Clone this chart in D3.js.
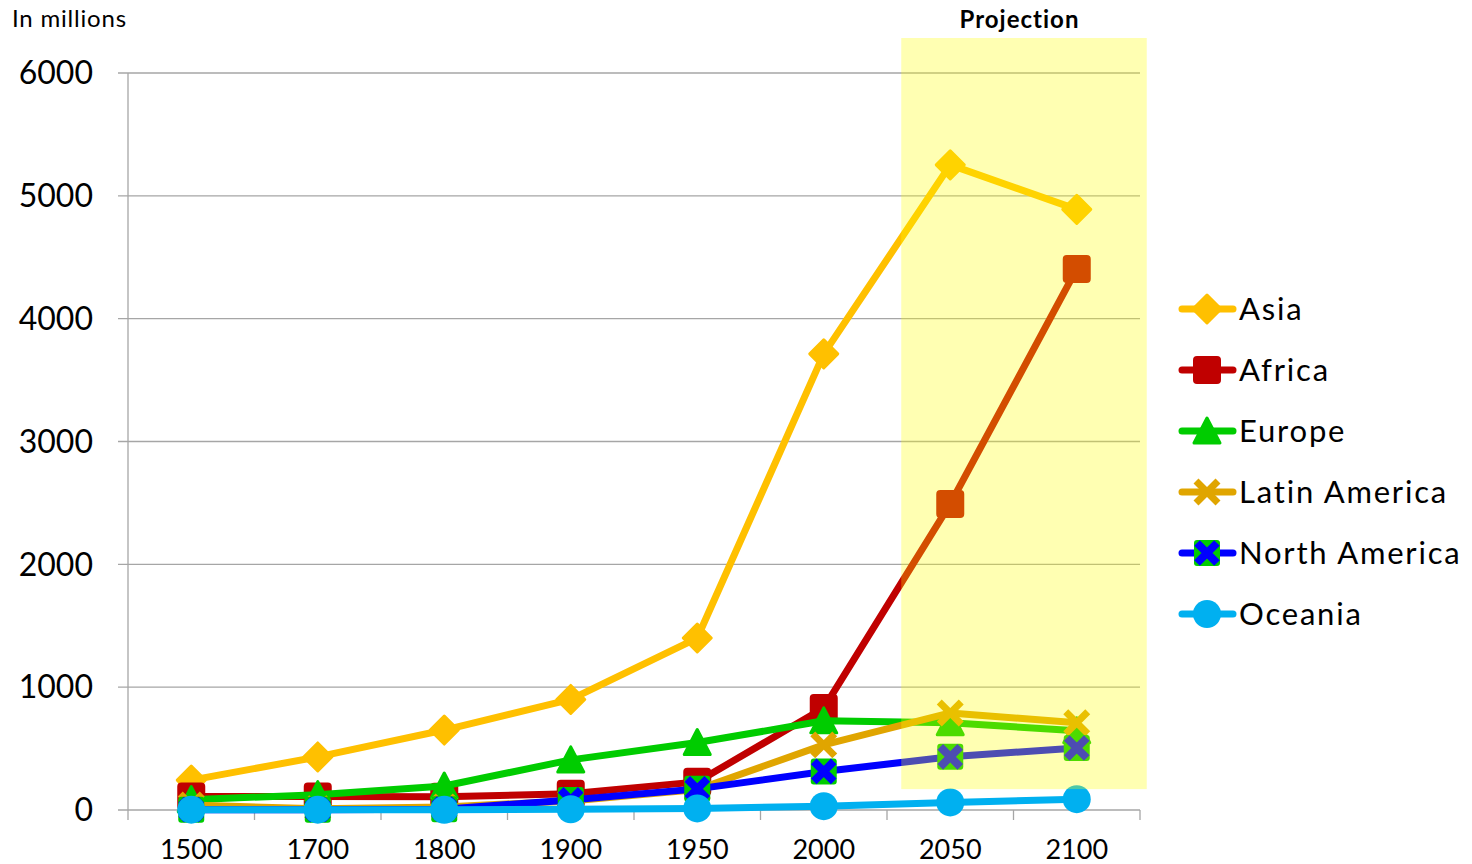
<!DOCTYPE html>
<html>
<head>
<meta charset="utf-8">
<script src="https://cdn.jsdelivr.net/npm/d3@7"></script>
<style>
  html, body { margin: 0; padding: 0; background: #fff; }
  svg { display: block; font-family: Lato, "Open Sans", sans-serif; }
</style>
</head>
<body>
<svg id="chart" width="1472" height="864"></svg>
<script>
// World population by region, in millions
const years = ["1500", "1700", "1800", "1900", "1950", "2000", "2050", "2100"];
const asia          = [243, 432, 651, 900, 1400, 3713, 5252, 4890];
const africa        = [110, 110, 107, 133, 229, 830, 2492, 4405];
const europe        = [84, 125, 195, 408, 549, 726, 710, 645];
const latinAmerica  = [40, 10, 24, 74, 167, 530, 790, 710];
const northAmerica  = [3, 2, 7, 82, 172, 314, 433, 505];
const oceania       = [3, 3, 2, 6, 13, 31, 62, 88];
const yTicks = [0, 1000, 2000, 3000, 4000, 5000, 6000];
const projectionYears = ["2050", "2100"];

const series = [
  { name: "Asia",          values: asia,         color: "#FFC000", marker: "diamond" },
  { name: "Africa",        values: africa,       color: "#C00000", marker: "square" },
  { name: "Europe",        values: europe,       color: "#00CC00", marker: "triangle" },
  { name: "Latin America", values: latinAmerica, color: "#E0A500", marker: "x" },
  { name: "North America", values: northAmerica, color: "#0000FF", marker: "boxx" },
  { name: "Oceania",       values: oceania,      color: "#00B0F0", marker: "circle" }
];

const svg = d3.select("#chart");
const plot = { left: 128, right: 1140, top: 73, bottom: 810 };

const x = d3.scaleBand().domain(years).range([plot.left, plot.right]);
const y = d3.scaleLinear().domain([0, 6000]).range([plot.bottom, plot.top]);
const cx = d => x(d) + x.bandwidth() / 2;

const grid = "#A6A6A6";

// horizontal gridlines with short outer ticks
svg.append("g").selectAll("line").data(yTicks).join("line")
  .attr("x1", plot.left - 10).attr("x2", plot.right)
  .attr("y1", d => y(d)).attr("y2", d => y(d))
  .attr("stroke", grid).attr("stroke-width", 1.3);

// value axis line
svg.append("line")
  .attr("x1", plot.left).attr("x2", plot.left)
  .attr("y1", plot.top).attr("y2", plot.bottom)
  .attr("stroke", grid).attr("stroke-width", 1.3);

// category tick marks between bands
const bounds = years.map(d => x(d)).concat([plot.right]);
svg.append("g").selectAll("line").data(bounds).join("line")
  .attr("x1", d => d).attr("x2", d => d)
  .attr("y1", plot.bottom).attr("y2", plot.bottom + 10)
  .attr("stroke", grid).attr("stroke-width", 1.3);

// y labels
svg.append("g").selectAll("text").data(yTicks).join("text")
  .attr("x", 93).attr("y", d => y(d))
  .attr("dy", "0.35em")
  .attr("text-anchor", "end")
  .attr("font-size", 32)
  .attr("fill", "#000")
  .text(d => d);

// x labels
svg.append("g").selectAll("text").data(years).join("text")
  .attr("x", d => cx(d)).attr("y", 859)
  .attr("text-anchor", "middle")
  .attr("font-size", 27)
  .attr("fill", "#000")
  .text(d => d);

svg.append("text").attr("x", 12).attr("y", 27)
  .attr("font-size", 24).attr("letter-spacing", 0.8).attr("fill", "#000").text("In millions");

// marker drawing
function drawMarker(g, type, color, px, py) {
  const s = 13;
  if (type === "diamond") {
    g.append("path")
      .attr("d", `M${px},${py - s - 1}L${px + s + 1},${py}L${px},${py + s + 1}L${px - s - 1},${py}Z`)
      .attr("fill", color).attr("stroke", color).attr("stroke-width", 3).attr("stroke-linejoin", "round");
  } else if (type === "square") {
    g.append("rect")
      .attr("x", px - s).attr("y", py - s).attr("width", 2 * s).attr("height", 2 * s)
      .attr("rx", 3).attr("fill", color).attr("stroke", color).attr("stroke-width", 2);
  } else if (type === "triangle") {
    g.append("path")
      .attr("d", `M${px},${py - s}L${px + s},${py + s - 1}L${px - s},${py + s - 1}Z`)
      .attr("fill", color).attr("stroke", color).attr("stroke-width", 3).attr("stroke-linejoin", "round");
  } else if (type === "x") {
    const a = 11;
    g.append("path")
      .attr("d", `M${px - a},${py - a}L${px + a},${py + a}M${px + a},${py - a}L${px - a},${py + a}`)
      .attr("stroke", color).attr("stroke-width", 7).attr("fill", "none");
  } else if (type === "boxx") {
    g.append("rect")
      .attr("x", px - s).attr("y", py - s).attr("width", 2 * s).attr("height", 2 * s)
      .attr("rx", 3).attr("fill", "#00CC00");
    const a = 10;
    g.append("path")
      .attr("d", `M${px - a},${py - a}L${px + a},${py + a}M${px + a},${py - a}L${px - a},${py + a}`)
      .attr("stroke", color).attr("stroke-width", 8).attr("fill", "none");
  } else if (type === "circle") {
    g.append("circle").attr("cx", px).attr("cy", py).attr("r", s + 1).attr("fill", color);
  }
}

const line = d3.line().x((d, i) => cx(years[i])).y(d => y(d));

// series, each drawn with its markers, later series on top
series.forEach(s => {
  const g = svg.append("g");
  g.append("path").datum(s.values)
    .attr("d", line)
    .attr("fill", "none").attr("stroke", s.color).attr("stroke-width", 7)
    .attr("stroke-linejoin", "round").attr("stroke-linecap", "round");
  s.values.forEach((v, i) => drawMarker(g, s.marker, s.color, cx(years[i]), y(v)));
});

// projection band overlay
const px0 = cx(projectionYears[0]) - 49;
const px1 = cx(projectionYears[1]) + 70;
svg.append("rect")
  .attr("x", px0).attr("y", 38)
  .attr("width", px1 - px0).attr("height", y(170) - 38)
  .attr("fill", "#FFFF00").attr("opacity", 0.3);

svg.append("text")
  .attr("x", (cx(projectionYears[0]) + cx(projectionYears[1])) / 2 + 6).attr("y", 28)
  .attr("text-anchor", "middle").attr("font-size", 24).attr("font-weight", "bold")
  .attr("letter-spacing", 1).attr("fill", "#000").text("Projection");

// legend
const legend = svg.append("g");
series.forEach((s, i) => {
  const ly = 309 + i * 61;
  legend.append("line")
    .attr("x1", 1182).attr("x2", 1233).attr("y1", ly).attr("y2", ly)
    .attr("stroke", s.color).attr("stroke-width", 7).attr("stroke-linecap", "round");
  drawMarker(legend, s.marker, s.color, 1207, ly);
  legend.append("text")
    .attr("x", 1239).attr("y", ly).attr("dy", "0.35em")
    .attr("font-size", 31).attr("letter-spacing", 1.8).attr("fill", "#000")
    .text(s.name);
});
</script>
</body>
</html>
